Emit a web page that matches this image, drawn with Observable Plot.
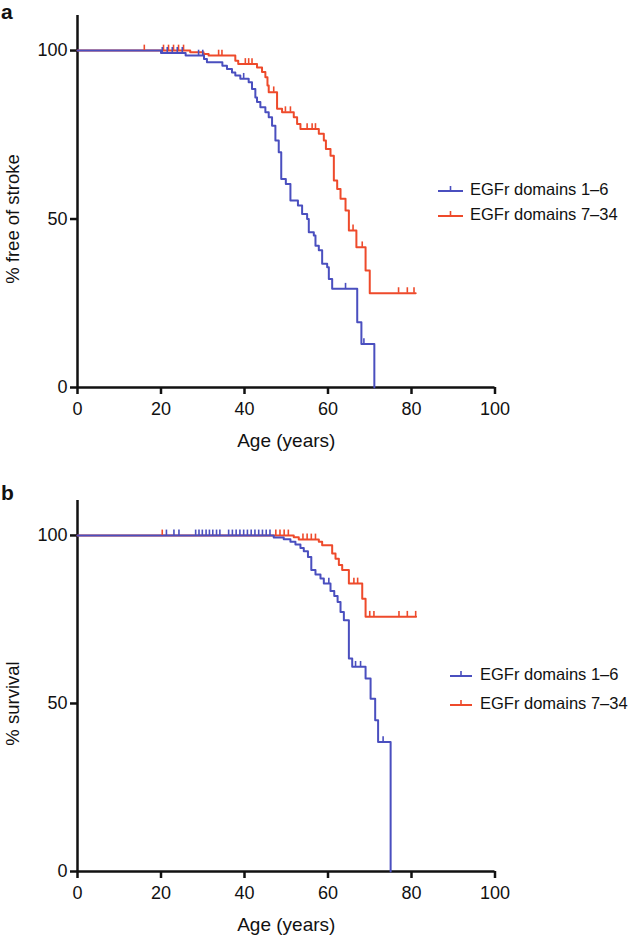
<!DOCTYPE html>
<html>
<head>
<meta charset="utf-8">
<script src="https://cdn.jsdelivr.net/npm/d3@7"></script>
<script src="https://cdn.jsdelivr.net/npm/@observablehq/plot@0.6"></script>
<style>
html,body{margin:0;padding:0;background:#fff;}
#fig{position:relative;width:628px;height:935px;font-family:"Liberation Sans",Arial,Helvetica,sans-serif;color:#111;overflow:hidden;}
.panel{position:absolute;left:0;}
.panel svg{display:block;}
.plabel{position:absolute;left:1px;font-weight:bold;font-size:21px;line-height:normal;}
.leg{position:absolute;display:flex;align-items:center;height:20px;font-size:16.5px;white-space:nowrap;}
</style>
</head>
<body>
<div id="fig"></div>
<script>
// ---------- data ----------
const seriesNames = ["EGFr domains 1–6", "EGFr domains 7–34"];
const xTicks = [0, 20, 40, 60, 80, 100];
const yTicks = [0, 50, 100];
const panelLetters = ["a", "b"];
const yLabels = ["% free of stroke", "% survival"];
const xLabel = "Age (years)";

// Panel a: % free of stroke (step: value after each age)
const blueA_age = [0, 20, 25.9, 30.3, 31, 34.7, 35.8, 37, 37.8, 39, 41, 41.8, 42.6, 43, 43.8, 45, 45.8, 46.6, 47.4, 48.2, 48.8, 49.9, 51, 52.8, 53.8, 55, 55.4, 56.6, 57, 57.8, 58.6, 59.8, 60.2, 61, 67, 68, 71.1];
const blueA_pct = [100, 99.3, 98.5, 97.5, 96.5, 95.5, 94.5, 93.5, 92.6, 91.6, 90.6, 88.6, 86.1, 84.7, 83.2, 81.7, 80.2, 77.7, 73.3, 69.8, 61.9, 60.4, 55.5, 54, 51.5, 50, 46.1, 45.1, 42.1, 40.7, 36.7, 35.7, 32.2, 29.3, 19.4, 12.9, 0];
const blueA_cens = [20.3, 21.5, 22.7, 23.9, 25.1, 29, 30, 39.8, 64.2, 68.6];

const redA_age = [0, 27, 30.2, 31.4, 37.8, 38.5, 43, 44.2, 45, 45.5, 45.8, 47.8, 49, 51.8, 52.6, 53.4, 57.8, 59, 59.5, 60.6, 61.4, 62.2, 63, 64.2, 65, 66.8, 69, 70, 81];
const redA_pct = [100, 99.5, 99, 98.5, 97, 96, 95, 93.6, 92.1, 89.6, 87.6, 82.7, 81.7, 80.2, 78.2, 76.7, 75.3, 73.3, 70.8, 68.8, 61.4, 58.9, 56, 52.5, 46.6, 41.6, 34.7, 28, 28];
const redA_cens = [16, 20.6, 21.8, 23, 24.2, 25.4, 33.8, 34.6, 40.2, 41, 41.8, 47, 49.8, 51, 55, 56.2, 57, 66, 68.2, 76.9, 79, 80.6];

// Panel b: % survival
const blueB_age = [0, 47, 49.4, 51, 52.2, 53.4, 54.2, 55.2, 56, 57, 58.2, 59, 60.6, 61.5, 62.3, 63, 63.8, 65, 65.8, 69, 70.2, 71.3, 72, 75];
const blueB_pct = [100, 99.4, 98.9, 98.1, 97.3, 96.3, 95.3, 93.6, 89.7, 88.4, 87.2, 85.7, 83.5, 82, 80.2, 77.2, 74.8, 63.4, 60.9, 57.4, 51.4, 45, 38.5, 0];
const blueB_cens = [21.3, 23.1, 24.3, 28.3, 29.1, 29.9, 30.8, 31.6, 32.4, 33.3, 34.1, 36.2, 37.1, 38, 38.9, 39.8, 40.7, 41.6, 42.5, 43.4, 44.3, 45.2, 46.1, 60.2, 66.6, 67.8, 73.2];

const redB_age = [0, 51.8, 53, 57.8, 58.6, 61, 61.8, 62.6, 63.4, 65, 68.2, 69, 81.1];
const redB_pct = [100, 99.5, 98.8, 98.1, 97.1, 94.6, 93.1, 91.2, 89.7, 85.7, 81.2, 75.8, 75.8];
const redB_cens = [20.3, 47.5, 48.5, 49.5, 50.5, 54, 55, 56, 57, 66.2, 67.1, 70, 71, 77, 79, 81];

// ---------- styling ----------
const BLUE = "#4a4fbf";
const RED = "#ee4a2b";
const FONT = '"Liberation Sans", Arial, Helvetica, sans-serif';

function steps(ages, pcts) { return ages.map((a, i) => ({age: a, pct: pcts[i]})); }
function censored(cens, ages, pcts) {
  return cens.map(c => ({age: c, pct: pcts[Math.max(0, d3.bisectRight(ages, c) - 1)]}));
}

function panel(opts) {
  const blue = steps(opts.bAge, opts.bPct), red = steps(opts.rAge, opts.rPct);
  const bC = censored(opts.bCens, opts.bAge, opts.bPct), rC = censored(opts.rCens, opts.rAge, opts.rPct);
  const yMid = (yTicks[0] + yTicks[yTicks.length - 1]) / 2;
  return Plot.plot({
    width: 628, height: opts.height,
    marginTop: opts.marginTop, marginBottom: opts.marginBottom,
    marginLeft: 77, marginRight: 133.5,
    x: {domain: [0, 100]},
    y: {domain: [0, 110.4]},
    style: {fontFamily: FONT, fontSize: "18px", color: "#111", background: "white"},
    marks: [
      Plot.axisX({ticks: xTicks, tickSize: 7, tickPadding: 8, strokeWidth: 2.5, label: null, fontSize: 18}),
      Plot.axisY({ticks: yTicks, tickSize: 7, tickPadding: 3, strokeWidth: 2.5, label: null, fontSize: 18}),
      Plot.ruleX([0], {strokeWidth: 2.5}),
      Plot.ruleY([0], {strokeWidth: 2.5}),
      Plot.line(red, {x: "age", y: "pct", curve: "step-after", stroke: RED, strokeWidth: 2}),
      Plot.line(blue, {x: "age", y: "pct", curve: "step-after", stroke: BLUE, strokeWidth: 2}),
      Plot.ruleX(rC, {x: "age", y1: "pct", y2: d => d.pct + 1.6, stroke: RED, strokeWidth: 1.6}),
      Plot.ruleX(bC, {x: "age", y1: "pct", y2: d => d.pct + 1.6, stroke: BLUE, strokeWidth: 1.6}),
      Plot.text([opts.yLabel], {frameAnchor: "left", y: () => yMid, rotate: -90, dx: -64.5,
        textAnchor: "middle", lineAnchor: "middle", fontSize: 18.5, fill: "#111"}),
      Plot.text([xLabel], {frameAnchor: "bottom", dy: 53, textAnchor: "middle", lineAnchor: "middle",
        fontSize: 19, fill: "#111"})
    ]
  });
}

function swatch(color, w) {
  return `<svg width="${w}" height="10" style="display:block"><line x1="0" x2="${w}" y1="7" y2="7" stroke="${color}" stroke-width="2"/><line x1="${w/2}" x2="${w/2}" y1="7" y2="2" stroke="${color}" stroke-width="1.6"/></svg>`;
}

const fig = document.getElementById("fig");

const layouts = [
  {top: 0, height: 465, marginTop: 15, marginBottom: 78, letterTop: 0,
   legLeft: 438, legW: 25, gap: 7, legTops: [179, 204],
   bAge: blueA_age, bPct: blueA_pct, bCens: blueA_cens, rAge: redA_age, rPct: redA_pct, rCens: redA_cens},
  {top: 465, height: 470, marginTop: 35, marginBottom: 64, letterTop: 481,
   legLeft: 450, legW: 22, gap: 8, legTops: [664, 693],
   bAge: blueB_age, bPct: blueB_pct, bCens: blueB_cens, rAge: redB_age, rPct: redB_pct, rCens: redB_cens}
];

layouts.forEach((L, k) => {
  const div = document.createElement("div");
  div.className = "panel";
  div.style.top = L.top + "px";
  div.appendChild(panel({...L, yLabel: yLabels[k]}));
  fig.appendChild(div);

  const lab = document.createElement("div");
  lab.className = "plabel";
  lab.style.top = L.letterTop + "px";
  lab.textContent = panelLetters[k];
  fig.appendChild(lab);

  [BLUE, RED].forEach((c, i) => {
    const row = document.createElement("div");
    row.className = "leg";
    row.style.left = L.legLeft + "px";
    row.style.top = L.legTops[i] + "px";
    row.innerHTML = `<span style="margin-right:${L.gap}px">${swatch(c, L.legW)}</span><span>${seriesNames[i]}</span>`;
    fig.appendChild(row);
  });
});
</script>
</body>
</html>
